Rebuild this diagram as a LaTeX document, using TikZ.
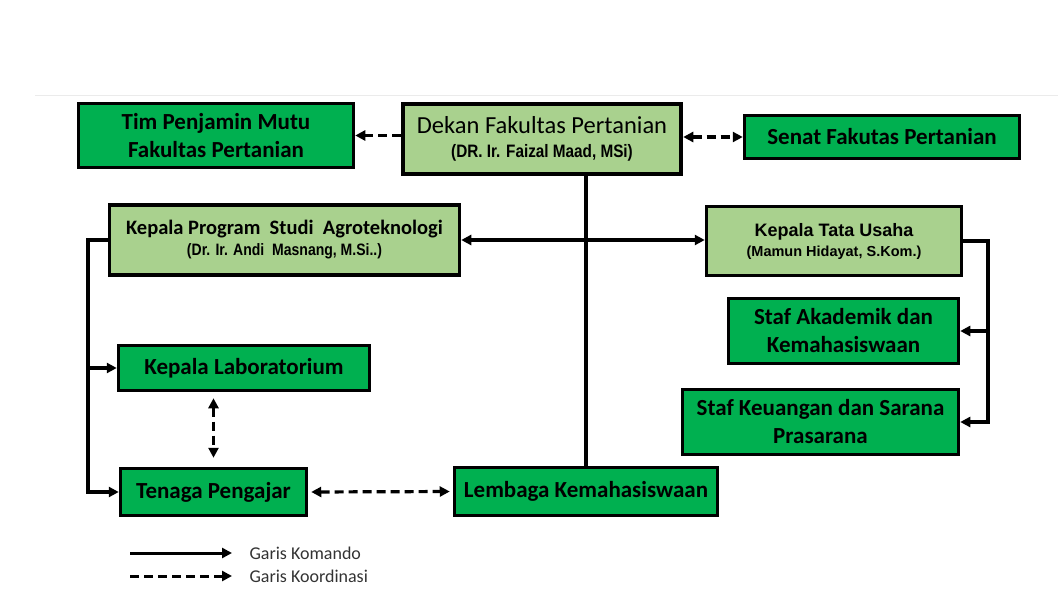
\documentclass[tikz,border=0pt]{standalone}
\usepackage{fontspec}
\setmainfont{Carlito}
\newfontfamily\narrowfont[FakeStretch=0.85]{Liberation Sans}
\newfontfamily\arialfont{Liberation Sans}
\usetikzlibrary{arrows.meta}
\definecolor{darkgreen}{RGB}{0,176,80}
\definecolor{lightgreen}{RGB}{169,209,142}
\begin{document}
\begin{tikzpicture}[x=1pt,y=-1pt,
  box/.style={draw,line width=3.5pt,inner sep=0pt,align=center,
    font=\bfseries\fontsize{23}{28}\selectfont},
  headbox/.style={box,fill=lightgreen},
  unitbox/.style={box,fill=darkgreen},
  cmd/.style={line width=3.2pt,-{Triangle[length=10pt,width=10pt]}},
  koord/.style={cmd,dash pattern=on 9pt off 5pt}]
\useasboundingbox (0,0) rectangle (1058,605);
\draw[black!8,line width=1pt] (35,95) -- (1058,95);

% pimpinan
\node[headbox,line width=4.5pt,minimum width=278,minimum height=70] (dekan) at (542,139)
  {\mdseries\fontsize{24.5}{28}\selectfont Dekan Fakultas Pertanian\\[-4pt]
   {\narrowfont\fontsize{18}{28}\selectfont (DR. Ir. Faizal Maad, MSi)}};
\node[unitbox,minimum width=275,minimum height=64] (tim) at (216,135.5)
  {Tim Penjamin Mutu\\Fakultas Pertanian};
\node[unitbox,minimum width=275,minimum height=43] (senat) at (882,137)
  {Senat Fakutas Pertanian};

% prodi dan tata usaha
\node[headbox,minimum width=350,minimum height=70] (prodi) at (284.5,240)
  {\fontsize{20.5}{28}\selectfont Kepala Program\ \ Studi\ \ Agroteknologi\\[-7pt]
   {\narrowfont\fontsize{16.5}{28}\selectfont (Dr. Ir. Andi\ \ Masnang, M.Si..)}};
\node[headbox,minimum width=255,minimum height=69] (ktu) at (834,241)
  {\arialfont\fontsize{18}{28}\selectfont Kepala\ Tata\ Usaha\\[-8pt]
   {\arialfont\fontsize{14.5}{28}\selectfont (Mamun Hidayat, S.Kom.)}};
\node[unitbox,minimum width=230,minimum height=65] (akad) at (843.5,331)
  {Staf Akademik dan\\Kemahasiswaan};
\node[unitbox,minimum width=276,minimum height=65] (keu) at (820.5,422)
  {Staf Keuangan dan Sarana\\Prasarana};

% bawah
\node[unitbox,minimum width=251,minimum height=45] (lab) at (244,368)
  {Kepala Laboratorium};
\node[unitbox,minimum width=186,minimum height=47] (dosen) at (213.5,492)
  {Tenaga Pengajar};
\node[unitbox,minimum width=263,minimum height=48] (lembaga) at (586,491.5)
  {Lembaga Kemahasiswaan};

% garis komando
\coordinate (spineL) at (88,240);
\coordinate (spineR) at (988,241);
\draw[cmd,-] (dekan.south -| lembaga.north) -- (lembaga.north);
\draw[cmd,{Triangle[length=10pt,width=10pt]}-{Triangle[length=10pt,width=10pt]}]
  (prodi.east) -- (prodi.east -| ktu.west);
\draw[cmd] (prodi.west) -- (spineL) |- (dosen.west);
\draw[cmd] (spineL |- lab.west) -- (lab.west);
\draw[cmd] (ktu.east) -- (spineR) |- (keu.east);
\draw[cmd] (spineR |- akad.east) -- (akad.east);

% garis koordinasi
\draw[koord] (tim.east -| dekan.west) -- (tim.east);
\draw[koord,{Triangle[length=10pt,width=10pt]}-{Triangle[length=10pt,width=10pt]}]
  (senat.west -| dekan.east) -- (senat.west);
\draw[koord,{Triangle[length=10pt,width=10pt]}-{Triangle[length=10pt,width=10pt]},
  shorten <=6pt,shorten >=9pt] (lab.south -| dosen.north) -- (dosen.north);
\draw[koord,{Triangle[length=10pt,width=10pt]}-{Triangle[length=10pt,width=10pt]},
  shorten <=3pt,shorten >=3pt] (dosen.east) -- (lembaga.west);

% keterangan
\coordinate (legK) at (130,553);
\coordinate (legD) at (130,576);
\node[anchor=west,font=\fontsize{18}{20}\selectfont,black!80] (komando) at (246,553) {Garis Komando};
\node[anchor=west,font=\fontsize{18}{20}\selectfont,black!80] (koordinasi) at (246,576) {Garis Koordinasi};
\draw[cmd,line width=3pt] (legK) -- ([xshift=-14pt]komando.west);
\draw[koord,line width=3pt] (legD) -- ([xshift=-14pt]koordinasi.west);
\end{tikzpicture}
\end{document}
